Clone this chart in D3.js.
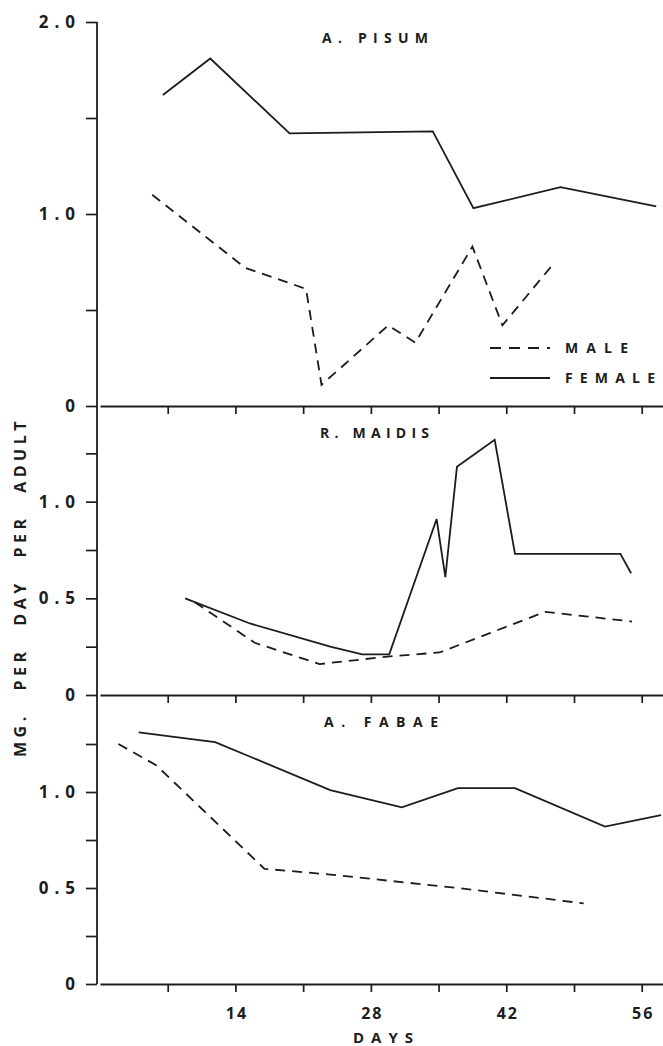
<!DOCTYPE html>
<html>
<head>
<meta charset="utf-8">
<script src="https://cdn.jsdelivr.net/npm/d3@7"></script>
<style>
  body { margin: 0; background: #fff; }
  text { font-family: "Open Sans", sans-serif; font-weight: 700; fill: #1c1c1c; }
</style>
</head>
<body>
<svg id="chart" width="663" height="1046"></svg>
<script>
// [day, mg per day per adult]
var pisumFemale = [[6.5,1.62],[11.4,1.81],[19.6,1.42],[34.4,1.43],[38.6,1.03],[47.6,1.14],[57.5,1.04]];
var pisumMale = [[5.4,1.10],[15,0.72],[21.3,0.61],[22.9,0.11],[29.8,0.42],[32.6,0.33],[38.5,0.83],[41.6,0.42],[46.7,0.73]];
var maidisFemale = [[8.8,0.50],[15.5,0.37],[23.8,0.25],[27.1,0.21],[29.9,0.21],[34.8,0.91],[35.7,0.61],[36.9,1.18],[40.8,1.32],[42.9,0.73],[53.8,0.73],[54.9,0.63]];
var maidisMale = [[9.8,0.48],[16,0.27],[22.7,0.16],[30,0.20],[35.1,0.22],[40.3,0.32],[46,0.43],[55,0.38]];
var fabaeFemale = [[4,1.31],[11.9,1.26],[23.8,1.01],[31.2,0.92],[37,1.02],[42.9,1.02],[52.2,0.82],[58,0.88]];
var fabaeMale = [[1.9,1.25],[5.8,1.14],[17,0.60],[23.8,0.57],[37,0.50],[50,0.42]];

var dayTicks = [7,14,21,28,35,42,49,56];
var dayLabels = [14,28,42,56];
var panelNames = ["A. PISUM","R. MAIDIS","A. FABAE"];
var legendLabels = ["MALE","FEMALE"];

var svg = d3.select("#chart");
var ink = "#1c1c1c";

var x = d3.scaleLinear().domain([0,58.2]).range([100,663]);

var panels = [
  {name: panelNames[0], male: pisumMale, female: pisumFemale, max: 2, top: 22, bottom: 406,
   titleX: 322, titleY: 43, titleW: 106, ticks: [0,0.5,1,1.5,2], labels: [0,1,2]},
  {name: panelNames[1], male: maidisMale, female: maidisFemale, max: 1.5, top: 405, bottom: 695,
   titleX: 320, titleY: 438, titleW: 109, ticks: [0,0.25,0.5,0.75,1,1.25], labels: [0,0.5,1]},
  {name: panelNames[2], male: fabaeMale, female: fabaeFemale, max: 1.5, top: 696, bottom: 984,
   titleX: 324, titleY: 727, titleW: 114, ticks: [0,0.25,0.5,0.75,1,1.25], labels: [0,0.5,1]}
];

var fmt = function(v){ return v === 0 ? "0" : d3.format(".1f")(v); };

// y axis spine
svg.append("line")
   .attr("x1",97).attr("x2",97)
   .attr("y1",22).attr("y2",984)
   .attr("stroke",ink).attr("stroke-width",1.8);

panels.forEach(function(p,i){
  var y = d3.scaleLinear().domain([0,p.max]).range([p.bottom,p.top]);

  var yAxis = d3.axisLeft(y)
      .tickValues(p.ticks)
      .tickSize(11)
      .tickSizeOuter(0)
      .tickPadding(5)
      .tickFormat(function(d){ return p.labels.indexOf(d) >= 0 ? fmt(d) : ""; });

  var gy = svg.append("g").attr("transform","translate(97,0)").call(yAxis);
  gy.select(".domain").remove();
  gy.selectAll("line").attr("stroke",ink).attr("stroke-width",1.7);
  gy.selectAll("text")
    .style("font-size","17px")
    .style("letter-spacing","6px")
    .attr("fill",ink);

  var xAxis = d3.axisBottom(x)
      .tickValues(dayTicks)
      .tickSize(8)
      .tickSizeOuter(0)
      .tickPadding(16)
      .tickFormat(function(d){ return (i === 2 && dayLabels.indexOf(d) >= 0) ? d : ""; });

  var gx = svg.append("g").attr("transform","translate(0," + p.bottom + ")").call(xAxis);
  gx.select(".domain").attr("stroke",ink).attr("stroke-width",1.8);
  gx.selectAll("line").attr("stroke",ink).attr("stroke-width",1.7);
  gx.selectAll("text")
    .style("font-size","16px")
    .style("letter-spacing","2px")
    .attr("dx","1")
    .attr("fill",ink);

  var line = d3.line()
      .x(function(d){ return x(d[0]); })
      .y(function(d){ return y(d[1]); });

  svg.append("path")
     .datum(p.female)
     .attr("d",line)
     .attr("fill","none")
     .attr("stroke",ink)
     .attr("stroke-width",1.8);

  svg.append("path")
     .datum(p.male)
     .attr("d",line)
     .attr("fill","none")
     .attr("stroke",ink)
     .attr("stroke-width",1.8)
     .attr("stroke-dasharray","10,7");

  svg.append("text")
     .text(p.name)
     .attr("x",p.titleX)
     .attr("y",p.titleY)
     .attr("textLength",p.titleW)
     .attr("lengthAdjust","spacing")
     .style("font-size","14px");
});

// legend
var legendWidths = [63,90];
var legend = svg.append("g");
legendLabels.forEach(function(name,i){
  var ly = 348 + i*30;
  legend.append("line")
        .attr("x1",490).attr("x2",550)
        .attr("y1",ly).attr("y2",ly)
        .attr("stroke",ink)
        .attr("stroke-width",1.8)
        .attr("stroke-dasharray", i === 0 ? "11,8" : null);
  legend.append("text")
        .text(name)
        .attr("x",565)
        .attr("y",ly + 5)
        .attr("textLength",legendWidths[i])
        .attr("lengthAdjust","spacing")
        .style("font-size","14px");
});

// axis titles
svg.append("text")
   .text("DAYS")
   .attr("x",353)
   .attr("y",1043)
   .attr("textLength",60)
   .attr("lengthAdjust","spacing")
   .style("font-size","15px");

var yTitle = svg.append("text")
   .text("MG. PER DAY PER ADULT")
   .attr("transform","translate(26,587) rotate(-90)")
   .attr("text-anchor","middle")
   .style("font-size","16px")
   .style("letter-spacing","4.5px");

// stretch the word gaps so the title runs about 340px
var plain = yTitle.node().getComputedTextLength();
yTitle.style("word-spacing", Math.max(0,(340 - plain)/4) + "px");
</script>
</body>
</html>
